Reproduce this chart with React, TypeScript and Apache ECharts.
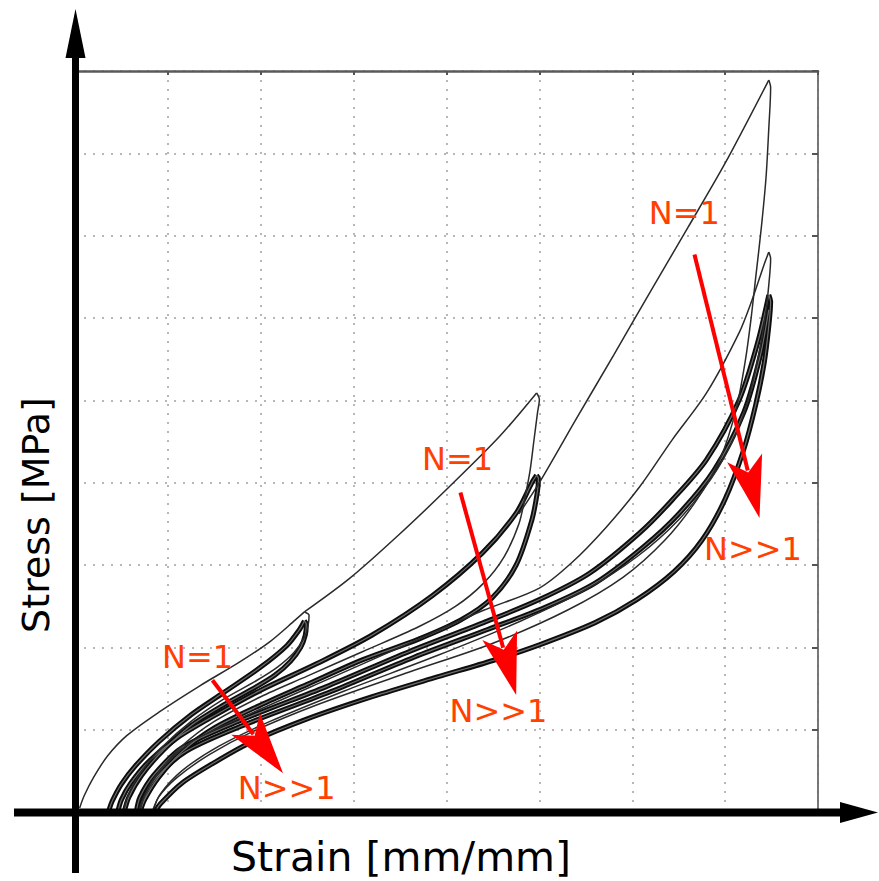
import React, { useEffect, useRef } from "react";
import * as echarts from "echarts";

// Grid: strain 0..8 (8 divisions), stress 0..9 (9 divisions); no tick labels in the reference
const xMax = 8;
const yMax = 9;

// ---- Block 1 (max strain ~2.5) ----
const virgin1 = [[0.05, 0.05], [0.1, 0.2], [0.2, 0.42], [0.35, 0.68], [0.56, 0.93], [0.9, 1.21], [1.34, 1.53], [1.77, 1.82], [2.1, 2.07], [2.37, 2.33], [2.47, 2.43]];
const unload1First = [[2.47, 2.43], [2.52, 2.39], [2.51, 2.27], [2.47, 2.12], [2.36, 1.94], [2.18, 1.76], [1.96, 1.6], [1.6, 1.37], [1.25, 1.1], [0.95, 0.8], [0.72, 0.5], [0.58, 0.22], [0.52, 0.0]];
const bundle1Load = [[0.36, 0.0], [0.4, 0.13], [0.5, 0.34], [0.65, 0.56], [0.9, 0.85], [1.25, 1.18], [1.6, 1.45], [2.0, 1.76], [2.28, 2.02], [2.42, 2.22], [2.47, 2.32]];
const bundle1Unload = [[2.47, 2.32], [2.49, 2.28], [2.48, 2.15], [2.43, 2.0], [2.32, 1.83], [2.15, 1.66], [1.95, 1.52], [1.6, 1.3], [1.25, 1.05], [0.95, 0.75], [0.72, 0.45], [0.58, 0.18], [0.53, 0.0]];

// ---- Block 2 (max strain ~5) ----
const virgin2 = [[2.47, 2.43], [2.96, 2.84], [3.49, 3.37], [4.03, 3.95], [4.57, 4.56], [4.97, 5.09]];
const unload2First = [[4.97, 5.09], [5.0, 5.01], [4.98, 4.85], [4.94, 4.5], [4.9, 4.15], [4.85, 3.85], [4.78, 3.5], [4.62, 3.1], [4.4, 2.78], [4.1, 2.5], [3.7, 2.25], [3.1, 1.95], [2.5, 1.65], [2.0, 1.4], [1.5, 1.1], [1.15, 0.8], [0.9, 0.48], [0.75, 0.2], [0.68, 0.0]];
const bundle2Load = [[0.46, 0.0], [0.5, 0.15], [0.6, 0.35], [0.8, 0.62], [1.1, 0.9], [1.5, 1.17], [2.0, 1.48], [2.6, 1.8], [3.2, 2.15], [3.85, 2.63], [4.39, 3.15], [4.75, 3.63], [4.92, 4.0], [4.97, 4.09]];
const bundle2Unload = [[4.97, 4.09], [4.99, 4.05], [4.98, 3.9], [4.92, 3.55], [4.75, 3.0], [4.49, 2.6], [4.15, 2.33], [3.7, 2.1], [3.1, 1.85], [2.5, 1.55], [2.0, 1.3], [1.5, 1.02], [1.15, 0.73], [0.9, 0.42], [0.75, 0.15], [0.7, 0.0]];

// ---- Block 3 (max strain ~7.5) ----
const virgin3 = [[4.78, 3.62], [5.0, 4.0], [5.4, 4.78], [5.8, 5.55], [6.2, 6.33], [6.6, 7.1], [7.0, 7.88], [7.47, 8.89]];
const unload3First = [[7.47, 8.89], [7.49, 8.8], [7.47, 8.3], [7.44, 7.7], [7.39, 7.1], [7.33, 6.5], [7.28, 6.0], [7.22, 5.5], [7.12, 4.9], [6.95, 4.3], [6.7, 3.8], [6.35, 3.3], [5.9, 2.85], [5.3, 2.45], [4.5, 2.05], [3.6, 1.7], [2.6, 1.3], [1.9, 0.97], [1.45, 0.7], [1.1, 0.42], [0.9, 0.18], [0.84, 0.0]];
const cycle2Load3 = [[0.7, 0.0], [0.75, 0.2], [0.9, 0.48], [1.25, 0.85], [1.9, 1.2], [2.8, 1.65], [3.7, 2.1], [4.4, 2.45], [5.0, 2.72], [5.35, 3.03], [5.72, 3.46], [6.08, 3.95], [6.43, 4.52], [6.8, 5.09], [7.15, 5.82], [7.29, 6.22], [7.42, 6.65], [7.47, 6.8]];
const cycle2Unload3 = [[7.47, 6.8], [7.49, 6.72], [7.47, 6.4], [7.43, 6.0], [7.36, 5.55], [7.26, 5.05], [7.1, 4.55], [6.85, 4.05], [6.5, 3.55], [6.05, 3.1], [5.5, 2.7], [4.8, 2.32], [3.9, 1.9], [2.9, 1.47], [2.1, 1.1], [1.55, 0.8], [1.15, 0.5], [0.92, 0.22], [0.83, 0.0]];
const bundle3Load = [[0.66, 0.0], [0.7, 0.18], [0.85, 0.45], [1.15, 0.78], [1.8, 1.12], [2.7, 1.52], [3.6, 1.95], [4.4, 2.3], [5.0, 2.58], [5.54, 2.9], [6.08, 3.39], [6.43, 3.79], [6.8, 4.28], [7.15, 5.0], [7.35, 5.7], [7.47, 6.28]];
const bundle3MidLoad = [[0.7, 0.0], [0.74, 0.16], [0.88, 0.42], [1.2, 0.74], [1.85, 1.07], [2.75, 1.46], [3.65, 1.88], [4.45, 2.22], [5.05, 2.48], [5.6, 2.78], [6.12, 3.22], [6.5, 3.62], [6.88, 4.15], [7.2, 4.85], [7.38, 5.55], [7.47, 6.1]];
const bundle3Unload = [[7.47, 6.28], [7.49, 6.2], [7.47, 5.9], [7.42, 5.45], [7.33, 4.95], [7.2, 4.4], [7.0, 3.8], [6.75, 3.3], [6.45, 2.92], [6.05, 2.58], [5.6, 2.3], [5.0, 2.03], [4.5, 1.84], [3.9, 1.64], [3.2, 1.4], [2.5, 1.13], [1.9, 0.85], [1.5, 0.6], [1.15, 0.35], [0.92, 0.1], [0.86, 0.0]];

// ---- Annotations (data coordinates) ----
const labelTexts = ["N=1", "N>>1", "N=1", "N>>1", "N=1", "N>>1"];
const labelPos = [[1.32, 1.88], [2.28, 0.29], [4.12, 4.29], [4.56, 1.23], [6.56, 7.28], [7.3, 3.2]];
const arrowFrom = [[1.48, 1.6], [4.15, 3.88], [6.67, 6.77]];
const arrowTo = [[2.24, 0.47], [4.75, 1.42], [7.37, 3.57]];

const thinCurves = [virgin1, unload1First, virgin2, unload2First, virgin3, unload3First, cycle2Load3, cycle2Unload3];
const thickCurves = [bundle1Load, bundle1Unload, bundle2Load, bundle2Unload, bundle3Load, bundle3MidLoad, bundle3Unload];

export default function App() {
  const ref = useRef<HTMLDivElement>(null);
  useEffect(() => {
    if (!ref.current) return;
    const chart = echarts.init(ref.current, null, { renderer: "svg" });
    const series: any[] = [];
    thickCurves.forEach((d) => {
      series.push({ type: "line", data: d, showSymbol: false, smooth: 0.3, silent: true, lineStyle: { color: "#0d0d0d", width: 5 }, z: 3 });
      series.push({ type: "line", data: d, showSymbol: false, smooth: 0.3, silent: true, lineStyle: { color: "#6e6e6e", width: 1.2 }, z: 4 });
    });
    thinCurves.forEach((d) => {
      series.push({ type: "line", data: d, showSymbol: false, smooth: 0.3, silent: true, lineStyle: { color: "#2a2a2a", width: 1.5 }, z: 5 });
    });
    const gridLine = { show: true, lineStyle: { color: "#a0a0a0", width: 1.5, type: [2, 7] } };
    chart.setOption({
      animation: false,
      backgroundColor: "#ffffff",
      grid: { left: 75, right: 61, top: 71, bottom: 69, containLabel: false },
      xAxis: [
        { type: "value", min: 0, max: xMax, interval: 1, axisLine: { show: false }, axisTick: { show: false }, axisLabel: { show: false }, splitLine: gridLine },
        { type: "value", position: "top", min: 0, max: xMax, interval: 1, axisLine: { show: true, onZero: false, lineStyle: { color: "#5a5a5a", width: 2.5 } }, axisTick: { show: true, inside: true, length: 4, lineStyle: { color: "#555", width: 2 } }, axisLabel: { show: false }, splitLine: { show: false } },
      ],
      yAxis: [
        { type: "value", min: 0, max: yMax, interval: 1, axisLine: { show: false }, axisTick: { show: false }, axisLabel: { show: false }, splitLine: gridLine },
        { type: "value", position: "right", min: 0, max: yMax, interval: 1, axisLine: { show: true, onZero: false, lineStyle: { color: "#6a6a6a", width: 1.8 } }, axisTick: { show: true, inside: true, length: 6, lineStyle: { color: "#555", width: 2 } }, axisLabel: { show: false }, splitLine: { show: false } },
      ],
      series,
    });

    const px = (p: number[]) => [
      chart.convertToPixel({ xAxisIndex: 0 }, p[0]) as number,
      chart.convertToPixel({ yAxisIndex: 0 }, p[1]) as number,
    ];
    const red = "#ff0000";
    const graphics: any[] = [];
    // axes with arrows
    graphics.push({ type: "line", shape: { x1: 14, y1: 812.5, x2: 845, y2: 812.5 }, style: { stroke: "#000", lineWidth: 8 }, z: 50 });
    graphics.push({ type: "polygon", shape: { points: [[878, 812.5], [840, 802], [840, 823]] }, style: { fill: "#000" }, z: 50 });
    graphics.push({ type: "line", shape: { x1: 75.5, y1: 873, x2: 75.5, y2: 52 }, style: { stroke: "#000", lineWidth: 7 }, z: 50 });
    graphics.push({ type: "polygon", shape: { points: [[75.5, 9], [65.5, 58], [85.5, 58]] }, style: { fill: "#000" }, z: 50 });
    // axis titles
    graphics.push({ type: "text", x: 401, y: 857, style: { text: "Strain [mm/mm]", font: "41px 'DejaVu Sans'", fill: "#000", align: "center", verticalAlign: "middle" }, z: 50 });
    graphics.push({ type: "text", x: 36, y: 515, rotation: Math.PI / 2, style: { text: "Stress [MPa]", font: "38px 'DejaVu Sans'", fill: "#000", align: "center", verticalAlign: "middle" }, z: 50 });
    // arrows
    arrowFrom.forEach((a, i) => {
      const s = px(a);
      const t = px(arrowTo[i]);
      const dx = t[0] - s[0];
      const dy = t[1] - s[1];
      const len = Math.sqrt(dx * dx + dy * dy);
      const ux = dx / len, uy = dy / len;
      const nx = -uy, ny = ux;
      const L = 62, W = 18, N = 47;
      const bx = t[0] - L * ux, by = t[1] - L * uy;
      graphics.push({ type: "line", shape: { x1: s[0], y1: s[1], x2: t[0] - (N + 2) * ux, y2: t[1] - (N + 2) * uy }, style: { stroke: red, lineWidth: 4 }, z: 60 });
      graphics.push({
        type: "polygon",
        shape: { points: [[t[0], t[1]], [bx + W * nx, by + W * ny], [t[0] - N * ux, t[1] - N * uy], [bx - W * nx, by - W * ny]] },
        style: { fill: red },
        z: 60,
      });
    });
    // labels
    labelTexts.forEach((txt, i) => {
      const p = px(labelPos[i]);
      graphics.push({ type: "text", x: p[0], y: p[1], style: { text: txt, font: "32px 'DejaVu Sans'", fill: "#ff4000", align: "center", verticalAlign: "middle" }, z: 61 });
    });
    chart.setOption({ graphic: graphics });
    return () => chart.dispose();
  }, []);
  return <div ref={ref} style={{ width: 879, height: 881, position: "absolute", left: 0, top: 0 }} />;
}
